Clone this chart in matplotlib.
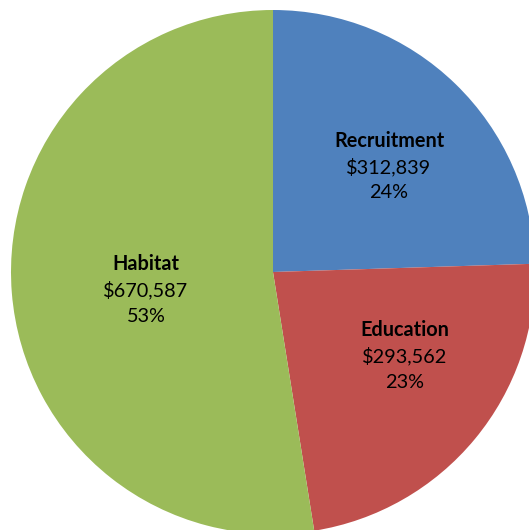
import matplotlib
matplotlib.use("Agg")
import matplotlib.pyplot as plt

names = ["Recruitment", "Education", "Habitat"]
values = [312839, 293562, 670587]
colors = ["#4F81BD", "#C0504D", "#9BBB59"]

# label block centres in pixel coords (x, y from top)
label_pos = [(389, 167), (405, 356), (146, 290)]

plt.rcParams['font.family'] = ['Lato', 'DejaVu Sans']

fig = plt.figure(figsize=(5.29, 5.30), dpi=100)
ax = fig.add_axes([0, 0, 1, 1])
ax.set_xlim(0, 529)
ax.set_ylim(0, 530)
ax.set_aspect('equal')
ax.axis('off')

ax.pie(values, colors=colors, startangle=90, counterclock=False,
       center=(273, 530 - 272), radius=262,
       wedgeprops={'linewidth': 0})

total = sum(values)
step = 26
for name, val, (x, y) in zip(names, values, label_pos):
    pct = round(val / total * 100)
    yy = 530 - y
    ax.text(x, yy + step, name, ha='center', va='center', fontsize=14.3, fontweight='bold')
    ax.text(x, yy, f"${val:,}", ha='center', va='center', fontsize=14.3)
    ax.text(x, yy - step, f"{pct}%", ha='center', va='center', fontsize=14.3)

ax.set_xlim(0, 529)
ax.set_ylim(0, 530)
fig.savefig("out.png", dpi=100)
